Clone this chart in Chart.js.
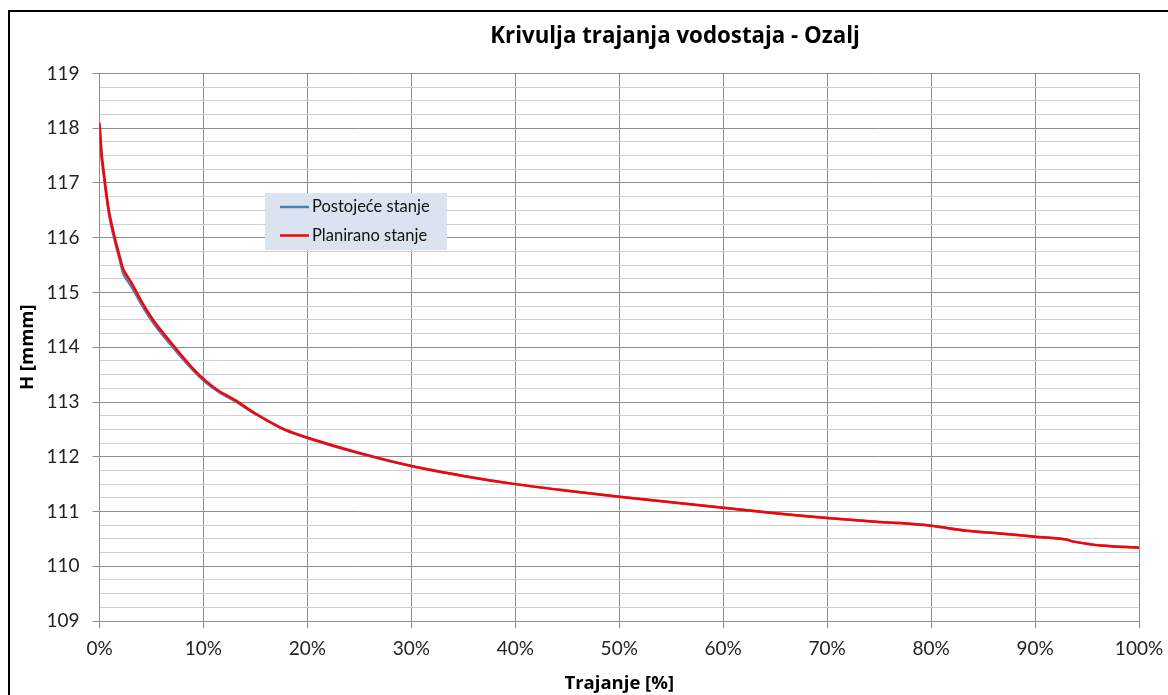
<!DOCTYPE html>
<html>
<head>
<meta charset="utf-8">
<script src="https://cdn.jsdelivr.net/npm/chart.js@4.4.1/dist/chart.umd.min.js"></script>
<style>
  html, body { margin: 0; padding: 0; background: #fff; }
  #okvir {
    position: absolute; left: 8px; top: 10px;
    width: 1200px; height: 720px;
    border: 2px solid #000;
  }
  #graf { position: absolute; left: 0; top: 0; }
</style>
</head>
<body>
<div id="okvir"></div>
<canvas id="graf" width="1168" height="695"></canvas>
<script>
/* ============ PODACI ============ */
// trajanje u postocima
const trajanje = [0, 0.2, 0.4, 0.7, 1.0, 1.5, 2.0, 2.3, 3.1, 4.1, 5.3, 6.6, 7.9, 9.2, 10.2, 11.5, 13.0, 15.0, 17.8, 20.5,
  25, 30, 35, 40, 45, 50, 55, 60, 65, 70, 75, 77, 80, 83.4, 86.6, 90, 93, 93.7, 96.3, 100];

// vodostaj H za postojeće stanje
const postojece = [118.05, 117.45, 117.15, 116.70, 116.33, 115.92, 115.55, 115.34, 115.10, 114.76, 114.41, 114.10, 113.81, 113.54, 113.36, 113.18, 113.02, 112.78, 112.49, 112.31,
  112.06, 111.83, 111.65, 111.50, 111.38, 111.27, 111.17, 111.07, 110.97, 110.88, 110.81, 110.79, 110.74, 110.65, 110.60, 110.54, 110.49, 110.45, 110.38, 110.34];

// vodostaj H za planirano stanje
const planirano = [118.10, 117.55, 117.22, 116.76, 116.40, 115.98, 115.62, 115.42, 115.17, 114.82, 114.46, 114.15, 113.85, 113.57, 113.39, 113.20, 113.04, 112.79, 112.50, 112.32,
  112.07, 111.83, 111.65, 111.50, 111.38, 111.27, 111.17, 111.07, 110.97, 110.88, 110.81, 110.79, 110.74, 110.65, 110.60, 110.54, 110.49, 110.45, 110.38, 110.34];

const naslov = "Krivulja trajanja vodostaja - Ozalj";
const nazivX = "Trajanje [%]";
const nazivY = "H [mmm]";

const FONT = "Lato, 'Open Sans', sans-serif";
const FONT_B = "'Open Sans', Lato, sans-serif";

function tocke(vrijednosti) {
  return trajanje.map((t, i) => ({ x: t, y: vrijednosti[i] }));
}

/* ============ NASLOV I LEGENDA ============ */
const dodaci = {
  id: "naslovLegenda",
  afterDraw(chart) {
    const ctx = chart.ctx;
    ctx.save();
    // naslov
    ctx.fillStyle = "#000";
    ctx.font = "bold 22.3px " + FONT_B;
    ctx.textAlign = "center";
    ctx.textBaseline = "middle";
    ctx.fillText(naslov, 675, 37);

    // legenda unutar grafa
    const lx = 265, ly = 193, lw = 182, lh = 57;
    ctx.fillStyle = "#dbe3f1";
    ctx.fillRect(lx, ly, lw, lh);
    ctx.font = "16.5px " + FONT;
    ctx.textAlign = "left";
    chart.data.datasets.slice().reverse().forEach((ds, i) => {
      const y = ly + 14 + i * 28.5;
      ctx.strokeStyle = ds.borderColor;
      ctx.lineWidth = 2.5;
      ctx.beginPath();
      ctx.moveTo(lx + 15, y);
      ctx.lineTo(lx + 44, y);
      ctx.stroke();
      ctx.fillStyle = "#111";
      ctx.fillText(ds.label, lx + 47, y);
    });
    ctx.restore();
  }
};

/* ============ GRAF ============ */
new Chart(document.getElementById("graf"), {
  type: "line",
  data: {
    datasets: [
      {
        label: "Planirano stanje",
        data: tocke(planirano),
        borderColor: "#ff0000",
        borderWidth: 2.5,
        pointRadius: 0,
        tension: 0.3,
        order: 1
      },
      {
        label: "Postojeće stanje",
        data: tocke(postojece),
        borderColor: "#4a7ebb",
        borderWidth: 2.5,
        pointRadius: 0,
        tension: 0.3,
        order: 2
      }
    ]
  },
  options: {
    responsive: false,
    animation: false,
    devicePixelRatio: 1,
    layout: { padding: { top: 73.5, right: 29, left: 0, bottom: 0 } },
    plugins: {
      legend: { display: false },
      title: { display: false },
      tooltip: { enabled: false }
    },
    scales: {
      x: {
        type: "linear",
        min: 0,
        max: 100,
        afterFit(s) {
          s.height = 74;
          s.paddingLeft = 0;
          s.paddingRight = 0;
        },
        ticks: {
          stepSize: 10,
          color: "#222",
          font: { family: FONT, size: 19 },
          padding: 9,
          maxRotation: 0,
          callback: v => v + "%"
        },
        grid: { color: "#8e8e8e", tickColor: "#8e8e8e", tickLength: 7, lineWidth: 1 },
        border: { color: "#8e8e8e" },
        title: {
          display: true,
          text: nazivX,
          color: "#000",
          font: { family: FONT_B, size: 18.5, weight: "bold" },
          padding: { top: 0, bottom: 0 }
        }
      },
      y: {
        min: 109,
        max: 119,
        afterFit(s) { s.width = 99.5; },
        ticks: {
          stepSize: 0.25,
          autoSkip: false,
          color: "#222",
          font: { family: FONT, size: 19 },
          padding: 13,
          callback: v => Number.isInteger(v) ? v : ""
        },
        grid: {
          lineWidth: 1,
          tickLength: 7,
          color: c => Number.isInteger(c.tick.value) ? "#8e8e8e" : "#cfcfcf",
          tickColor: c => Number.isInteger(c.tick.value) ? "#8e8e8e" : "rgba(0,0,0,0)"
        },
        border: { color: "#8e8e8e" },
        title: {
          display: true,
          text: nazivY,
          color: "#000",
          font: { family: FONT_B, size: 18.5, weight: "bold" },
          padding: { top: 17, bottom: 0 }
        }
      }
    }
  },
  plugins: [dodaci]
});
</script>
</body>
</html>
